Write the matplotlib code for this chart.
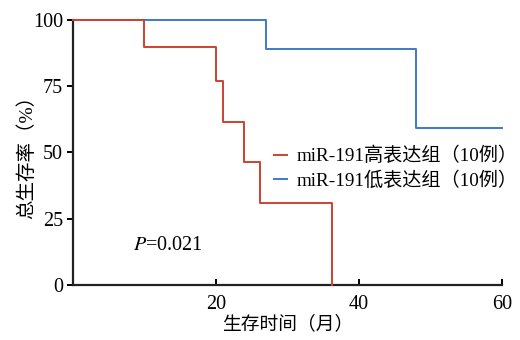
import matplotlib.pyplot as plt

plt.rcParams['font.family'] = ['Liberation Serif', 'Noto Sans CJK SC']

# survival curves (months, overall survival %)
high_t = [0, 10, 20, 21, 24, 26.2, 36.2]
high_s = [100, 90, 77.1, 61.7, 46.3, 30.9, 0]
low_t = [0, 27, 48, 60]
low_s = [100, 88.9, 59.3, 59.3]

high_label = 'miR-191高表达组（10例）'
low_label = 'miR-191低表达组（10例）'
x_ticks = [20, 40, 60]
y_ticks = [0, 25, 50, 75, 100]

fig = plt.figure(figsize=(5.2, 3.4), dpi=100)
ax = fig.add_axes([0.140, 0.162, 0.825, 0.779])

ax.step(high_t + [high_t[-1]], high_s + [high_s[-1]], where='post',
        color='#d0412e', lw=1.4, label=high_label, clip_on=False, zorder=3)
ax.step(low_t, low_s, where='post', color='#3d7bc6', lw=1.4,
        label=low_label, clip_on=False, zorder=2)

ax.set_xlim(0, 60)
ax.set_ylim(0, 100)
ax.spines['top'].set_visible(False)
ax.spines['right'].set_visible(False)
for s in ['left', 'bottom']:
    ax.spines[s].set_linewidth(1.6)
    ax.spines[s].set_color('#222222')

ax.set_xticks(x_ticks)
ax.set_yticks(y_ticks)
ax.tick_params(axis='x', direction='in', length=4, width=1.4, labelsize=14.5, pad=7)
ax.tick_params(axis='y', direction='out', length=4, width=1.4, labelsize=14.5, pad=3)

ax.set_xlabel('生存时间（月）', fontsize=13.5, labelpad=1)
ax.set_ylabel('总生存率（%）', fontsize=14)
ax.yaxis.set_label_coords(-0.085, 0.5)

ax.text(8.4, 15, r'$P$=0.021', fontsize=14.5, ha='left', va='center',
        math_fontfamily='stix')

ax.legend(loc='center left', bbox_to_anchor=(0.45, 0.44), frameon=False,
          fontsize=13.8, handlelength=0.7, handletextpad=0.5, labelspacing=0.3,
          borderaxespad=0)

fig.savefig('out.png', dpi=100)
